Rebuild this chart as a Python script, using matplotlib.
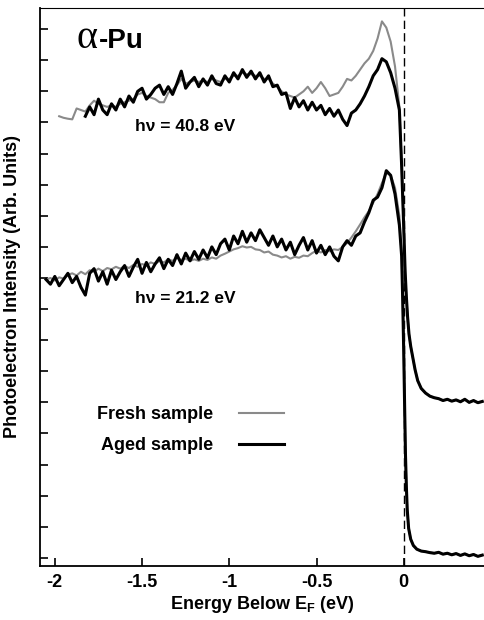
import numpy as np
import matplotlib
matplotlib.use("Agg")
import matplotlib.pyplot as plt

plt.rcParams['font.family'] = ['Liberation Sans', 'DejaVu Sans']
plt.rcParams['font.weight'] = 'bold'
plt.rcParams['axes.labelweight'] = 'bold'
plt.rcParams['mathtext.fontset'] = 'custom'
plt.rcParams['mathtext.rm'] = 'Liberation Sans:bold'
plt.rcParams['mathtext.bf'] = 'Liberation Sans:bold'

# energy grid below E_F (eV), shared by all four spectra
energy = [-2.05, -2.025, -2.0, -1.975, -1.95, -1.925, -1.9, -1.875, -1.85, -1.825,
          -1.8, -1.775, -1.75, -1.725, -1.7, -1.675, -1.65, -1.625, -1.6, -1.575,
          -1.55, -1.525, -1.5, -1.475, -1.45, -1.425, -1.4, -1.375, -1.35, -1.325,
          -1.3, -1.275, -1.25, -1.225, -1.2, -1.175, -1.15, -1.125, -1.1, -1.075,
          -1.05, -1.025, -1.0, -0.975, -0.95, -0.925, -0.9, -0.875, -0.85, -0.825,
          -0.8, -0.775, -0.75, -0.725, -0.7, -0.675, -0.65, -0.625, -0.6, -0.575,
          -0.55, -0.525, -0.5, -0.475, -0.45, -0.425, -0.4, -0.375, -0.35, -0.325,
          -0.3, -0.275, -0.25, -0.225, -0.2, -0.175, -0.15, -0.125, -0.1, -0.075,
          -0.05, -0.025]

# hv = 21.2 eV
low_aged = [8.95, 8.8, 9.05, 8.75, 8.95, 9.15, 8.85, 9.05, 8.7, 8.45,
            9.15, 9.3, 8.9, 9.2, 8.8, 9.25, 8.95, 9.2, 9.4, 9.05,
            9.35, 9.6, 9.15, 9.5, 9.2, 9.45, 9.65, 9.3, 9.6, 9.4,
            9.75, 9.45, 9.8, 9.55, 9.85, 9.6, 9.9, 9.65, 10.0, 9.75,
            10.1, 10.25, 9.9, 10.35, 10.1, 10.5, 10.15, 10.45, 10.2, 10.55,
            10.3, 10.05, 10.35, 10.0, 10.25, 9.9, 10.15, 9.75, 10.05, 10.3,
            9.9, 10.2, 9.8, 10.05, 9.75, 10.0, 9.7, 9.55, 10.0, 10.2,
            10.05, 10.35, 10.45, 10.8, 11.1, 11.5, 11.6, 11.9, 12.45, 12.3,
            11.7, 10.7]
low_fresh = [8.95, 9.0, 8.92, 9.02, 8.98, 9.1, 9.15, 9.08, 9.2, 9.12,
             9.25, 9.2, 9.3, 9.22, 9.32, 9.28, 9.36, 9.3, 9.38, 9.32,
             9.42, 9.36, 9.45, 9.4, 9.5, 9.45, 9.55, 9.5, 9.6, 9.55,
             9.65, 9.58, 9.62, 9.55, 9.6, 9.55, 9.62, 9.58, 9.66, 9.62,
             9.72, 9.78, 9.85, 9.92, 9.96, 10.02, 9.98, 10.0, 9.92, 9.9,
             9.82, 9.85, 9.75, 9.72, 9.66, 9.7, 9.62, 9.68, 9.65, 9.72,
             9.7, 9.8, 9.88, 9.82, 9.9, 9.86, 9.92, 9.9, 10.0, 10.12,
             10.3, 10.5, 10.72, 10.95, 11.15, 11.42, 11.7, 12.05, 12.38, 12.3,
             11.9, 11.0]
low_edge_e = [-0.012, -0.006, 0.0, 0.005, 0.01, 0.015, 0.02, 0.028, 0.04, 0.055,
              0.075, 0.1, 0.125, 0.15, 0.175, 0.2, 0.225, 0.25, 0.275, 0.3,
              0.325, 0.35, 0.375, 0.4, 0.425, 0.45]
low_edge = [9.7, 8.3, 6.6, 4.9, 3.3, 2.3, 1.55, 0.95, 0.6, 0.4,
            0.28, 0.22, 0.2, 0.17, 0.15, 0.18, 0.12, 0.15, 0.1, 0.14,
            0.08, 0.13, 0.07, 0.11, 0.05, 0.09]

# hv = 40.8 eV
up_aged = [None, None, None, None, None, None, None, None, None, 14.2,
           14.5, 14.25, 14.75, 14.4, 14.25, 14.6, 14.4, 14.75, 14.5, 14.85,
           14.65, 15.0, 15.1, 14.75, 14.9, 15.1, 15.2, 14.9, 15.15, 14.9,
           15.25, 15.65, 15.1, 15.3, 15.45, 15.15, 15.4, 15.2, 15.5, 15.25,
           15.2, 15.5, 15.3, 15.6, 15.4, 15.7, 15.45, 15.65, 15.4, 15.6,
           15.3, 15.5, 15.15, 15.2, 14.9, 14.95, 14.45, 14.8, 14.5, 14.7,
           14.4, 14.65, 14.4, 14.55, 14.25, 14.45, 14.2, 14.4, 14.1, 13.9,
           14.3, 14.4, 14.6, 14.85, 15.15, 15.5, 15.7, 16.05, 15.95, 15.6,
           15.1, 14.4]
up_fresh = [None, None, None, 14.2, 14.15, 14.12, 14.1, 14.45, 14.4, 14.35,
            14.55, 14.7, 14.6, 14.55, 14.5, 14.55, 14.5, 14.6, 14.65, 14.7,
            14.75, 14.9, 14.95, 14.85, 14.8, 14.75, 14.65, 14.65, 14.95, 15.05,
            15.2, 15.4, 15.25, 15.3, 15.35, 15.3, 15.35, 15.3, 15.4, 15.35,
            15.3, 15.4, 15.4, 15.5, 15.5, 15.6, 15.55, 15.55, 15.5, 15.5,
            15.4, 15.4, 15.25, 15.15, 15.0, 14.9, 14.85, 14.8, 14.9, 15.0,
            15.15, 14.95, 15.1, 15.3, 15.1, 14.85, 14.9, 14.95, 15.15, 15.4,
            15.35, 15.5, 15.7, 15.9, 16.05, 16.3, 16.7, 17.25, 17.05, 16.6,
            15.8, 14.5]
up_edge_e = [-0.012, 0.0, 0.008, 0.015, 0.022, 0.03, 0.04, 0.05, 0.065, 0.08,
             0.1, 0.125, 0.15, 0.175, 0.2, 0.225, 0.25, 0.275, 0.3, 0.325,
             0.35, 0.375, 0.4, 0.425, 0.45]
up_edge = [12.6, 10.6, 9.2, 8.4, 7.75, 7.2, 6.8, 6.5, 6.05, 5.7,
           5.45, 5.3, 5.2, 5.15, 5.12, 5.06, 5.1, 5.04, 5.08, 5.02,
           5.1, 5.0, 5.06, 4.99, 5.03]

xtick_vals = [-2, -1.5, -1, -0.5, 0]
xtick_labels = ['-2', '-1.5', '-1', '-0.5', '0']

fresh_color = '#8a8a8a'
aged_color = 'black'


def spectrum(vals, edge_e, edge_v):
    x = np.array(energy + edge_e, dtype=float)
    y = np.array([np.nan if v is None else v for v in vals] + edge_v, dtype=float)
    return x, y


fig = plt.figure(figsize=(4.84, 6.2), dpi=100)
ax = fig.add_axes([0.0826, 0.0871, 0.9174, 0.9])

ax.axvline(0, color='black', lw=1.0, ls=(0, (6, 3)), zorder=1)

x, y = spectrum(up_fresh, up_edge_e, up_edge)
ax.plot(x, y, color=fresh_color, lw=1.5, zorder=2)
x, y = spectrum(up_aged, up_edge_e, up_edge)
ax.plot(x, y, color=aged_color, lw=2.2, zorder=3)
x, y = spectrum(low_fresh, low_edge_e, low_edge)
fresh_line, = ax.plot(x, y, color=fresh_color, lw=1.5, zorder=2)
x, y = spectrum(low_aged, low_edge_e, low_edge)
aged_line, = ax.plot(x, y, color=aged_color, lw=2.2, zorder=3)

ax.set_xlim(-2.085, 0.46)
ax.set_ylim(-0.26, 17.68)
ax.set_xticks(xtick_vals)
ax.set_xticklabels(xtick_labels)
ax.set_yticks(range(18))
ax.set_yticklabels([])
ax.tick_params(direction='in', length=6, width=1.2, labelsize=13, pad=6)
ax.spines['right'].set_visible(False)
ax.spines['top'].set_linewidth(0.8)
ax.spines['left'].set_linewidth(1.3)
ax.spines['bottom'].set_linewidth(1.3)

ax.set_xlabel(r'Energy Below E$_{\mathbf{F}}$ (eV)', fontsize=13, labelpad=2)
ax.set_ylabel('Photoelectron Intensity (Arb. Units)', fontsize=13, labelpad=8)

ax.text(0.083, 0.928, 'α', family='Liberation Serif', fontweight='normal',
        fontsize=29, transform=ax.transAxes, va='baseline')
ax.text(0.132, 0.928, '-Pu', fontsize=20, transform=ax.transAxes, va='baseline')
ax.text(0.214, 0.788, 'hν = 40.8 eV', fontsize=12.5, transform=ax.transAxes, va='center')
ax.text(0.214, 0.480, 'hν = 21.2 eV', fontsize=12.5, transform=ax.transAxes, va='center')

ax.legend([fresh_line, aged_line], ['Fresh sample', 'Aged sample'],
          markerfirst=False, frameon=False, loc='upper left',
          bbox_to_anchor=(0.128, 0.286), borderpad=0, borderaxespad=0,
          handlelength=2.5, handletextpad=1.45, labelspacing=0.75, fontsize=13)

fig.savefig('out.png', dpi=100)
